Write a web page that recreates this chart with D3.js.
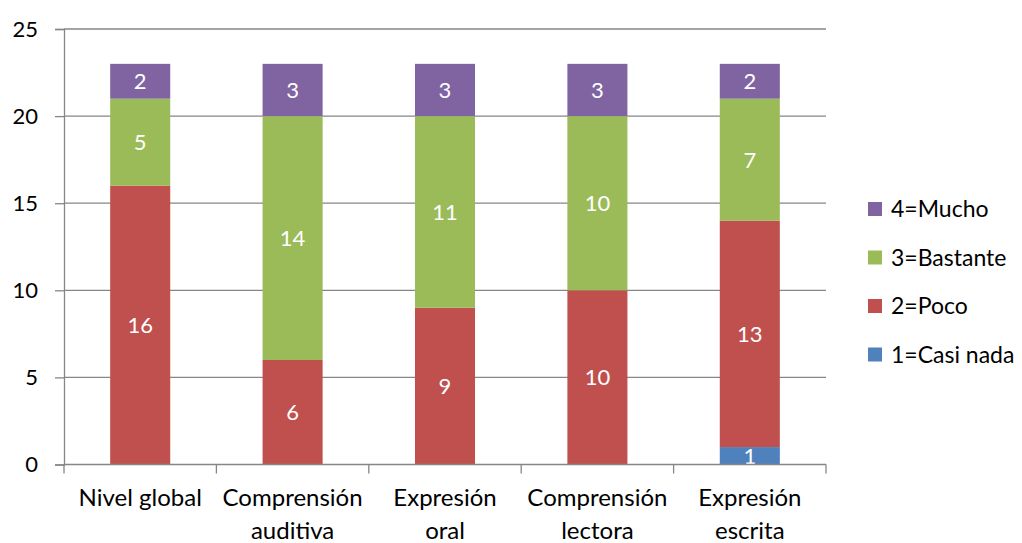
<!DOCTYPE html>
<html>
<head>
<meta charset="utf-8">
<script src="https://cdn.jsdelivr.net/npm/d3@7"></script>
<style>
  html, body { margin: 0; padding: 0; background: #fff; }
  svg { display: block; font-family: Lato, "Open Sans", sans-serif; }
</style>
</head>
<body>
<svg id="chart" width="1022" height="543"></svg>
<script>
// Categories (two-line labels) and stacked series values
const categories = [
  ["Nivel global"],
  ["Comprensión", "auditiva"],
  ["Expresión", "oral"],
  ["Comprensión", "lectora"],
  ["Expresión", "escrita"]
];
const seriesNames = ["1=Casi nada", "2=Poco", "3=Bastante", "4=Mucho"];
const casiNada = [0, 0, 0, 0, 1];
const poco     = [16, 6, 9, 10, 13];
const bastante = [5, 14, 11, 10, 7];
const mucho    = [2, 3, 3, 3, 2];
const yTicks   = [0, 5, 10, 15, 20, 25];
const colors   = ["#4F81BD", "#C0504D", "#9BBB59", "#8064A2"];

const seriesValues = [casiNada, poco, bastante, mucho];
const rows = categories.map((c, i) => {
  const r = { key: c.join(" ") };
  seriesNames.forEach((s, j) => { r[s] = seriesValues[j][i]; });
  return r;
});

const svg = d3.select("#chart");
const plot = { left: 64, right: 826, top: 29, bottom: 464.5 };

const x = d3.scaleBand()
  .domain(rows.map(r => r.key))
  .range([plot.left, plot.right])
  .paddingInner(0.606)
  .paddingOuter(0.303);
const xOuter = d3.scaleBand()
  .domain(rows.map(r => r.key))
  .range([plot.left, plot.right]);
const y = d3.scaleLinear().domain([0, 25]).range([plot.bottom, plot.top]);

const gridColor = "#868686";

// Horizontal gridlines
svg.append("g")
  .selectAll("line")
  .data(yTicks.filter(t => t > 0))
  .join("line")
  .attr("x1", plot.left).attr("x2", plot.right)
  .attr("y1", d => y(d)).attr("y2", d => y(d))
  .attr("stroke", gridColor).attr("stroke-width", 1.3);

// Stacked bars
const stacked = d3.stack().keys(seriesNames)(rows);
const layers = svg.append("g")
  .selectAll("g")
  .data(stacked)
  .join("g")
  .attr("fill", (d, i) => colors[i]);

layers.selectAll("rect")
  .data(d => d.filter(p => p[1] - p[0] > 0))
  .join("rect")
  .attr("x", d => x(d.data.key))
  .attr("width", x.bandwidth())
  .attr("y", d => y(d[1]))
  .attr("height", d => y(d[0]) - y(d[1]));

// Value labels inside segments
layers.each(function(layer) {
  d3.select(this).selectAll("text")
    .data(layer.filter(p => p[1] - p[0] > 0))
    .join("text")
    .attr("x", d => x(d.data.key) + x.bandwidth() / 2)
    .attr("y", d => y((d[0] + d[1]) / 2))
    .attr("dy", "0.36em")
    .attr("text-anchor", "middle")
    .attr("fill", "#fff")
    .attr("font-size", 22)
    .text(d => d[1] - d[0]);
});

// Y axis
const yAxis = svg.append("g")
  .attr("transform", `translate(${plot.left},0)`)
  .call(d3.axisLeft(y).tickValues(yTicks).tickSize(9).tickPadding(17));
yAxis.select(".domain").attr("stroke", gridColor).attr("stroke-width", 1.3);
yAxis.selectAll(".tick line").attr("stroke", gridColor).attr("stroke-width", 1.3);
yAxis.selectAll(".tick text")
  .attr("font-family", "Lato, sans-serif")
  .attr("font-size", 22)
  .attr("fill", "#000");

// X axis with boundary ticks between categories
const xAxisG = svg.append("g").attr("transform", `translate(0,${plot.bottom})`);
xAxisG.append("line")
  .attr("x1", plot.left).attr("x2", plot.right)
  .attr("stroke", gridColor).attr("stroke-width", 1.3);
const boundaries = rows.map(r => xOuter(r.key)).concat([plot.right]);
xAxisG.selectAll("line.tk")
  .data(boundaries)
  .join("line")
  .attr("class", "tk")
  .attr("x1", d => d).attr("x2", d => d)
  .attr("y1", 0).attr("y2", 9)
  .attr("stroke", gridColor).attr("stroke-width", 1.3);

const catLabels = xAxisG.selectAll("text.cat")
  .data(categories.map((c, i) => ({ lines: c, key: rows[i].key })))
  .join("text")
  .attr("class", "cat")
  .attr("text-anchor", "middle")
  .attr("font-size", 24)
  .attr("fill", "#000");
catLabels.selectAll("tspan")
  .data(d => d.lines.map(l => ({ l, key: d.key })))
  .join("tspan")
  .attr("x", d => xOuter(d.key) + xOuter.bandwidth() / 2)
  .attr("y", (d, i) => 41 + i * 33)
  .text(d => d.l);

// Legend (top to bottom: highest series first)
const legendOrder = seriesNames.map((s, i) => ({ s, c: colors[i] })).reverse();
const legend = svg.append("g")
  .selectAll("g")
  .data(legendOrder)
  .join("g")
  .attr("transform", (d, i) => `translate(868,${209 + i * 48.5})`);
legend.append("rect")
  .attr("x", 0).attr("y", -7).attr("width", 14).attr("height", 14)
  .attr("fill", d => d.c);
legend.append("text")
  .attr("x", 23).attr("dy", "0.36em")
  .attr("font-size", 23)
  .attr("fill", "#000")
  .text(d => d.s);
</script>
</body>
</html>
